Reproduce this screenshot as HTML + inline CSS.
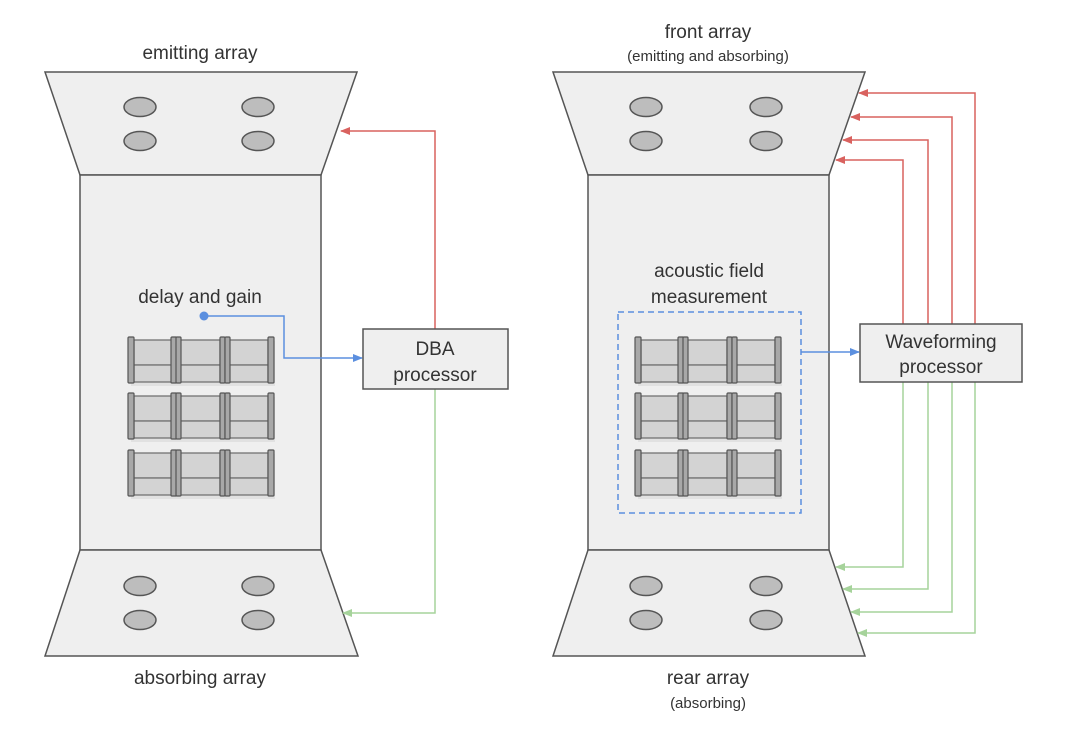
<!DOCTYPE html>
<html><head><meta charset="utf-8"><style>
html,body{margin:0;padding:0;background:#fff;}
svg{display:block;}
text{font-family:"Liberation Sans",sans-serif;fill:#333;}
</style></head><body>
<svg width="1080" height="734" viewBox="0 0 1080 734" xmlns="http://www.w3.org/2000/svg">
<defs>
<g id="row">
  <rect x="1" y="1" width="144" height="45" fill="#c8c8c8" opacity="0.35" transform="translate(2,3)"/>
  <rect x="6" y="3" width="38" height="25" fill="#d3d3d3" stroke="#6a6a6a" stroke-width="1.2"/>
  <rect x="6" y="28" width="38" height="17" fill="#d3d3d3" stroke="#6a6a6a" stroke-width="1.2"/>
  <rect x="50" y="3" width="42" height="25" fill="#d3d3d3" stroke="#6a6a6a" stroke-width="1.2"/>
  <rect x="50" y="28" width="42" height="17" fill="#d3d3d3" stroke="#6a6a6a" stroke-width="1.2"/>
  <rect x="99" y="3" width="41" height="25" fill="#d3d3d3" stroke="#6a6a6a" stroke-width="1.2"/>
  <rect x="99" y="28" width="41" height="17" fill="#d3d3d3" stroke="#6a6a6a" stroke-width="1.2"/>
  <rect x="0" y="0" width="6" height="46" rx="1" fill="#a8a8a8" stroke="#555" stroke-width="1.2"/>
  <rect x="43" y="0" width="6" height="46" rx="1" fill="#a8a8a8" stroke="#555" stroke-width="1.2"/>
  <rect x="48" y="0" width="5" height="46" rx="1" fill="#a8a8a8" stroke="#555" stroke-width="1.2"/>
  <rect x="92" y="0" width="5" height="46" rx="1" fill="#a8a8a8" stroke="#555" stroke-width="1.2"/>
  <rect x="97" y="0" width="5" height="46" rx="1" fill="#a8a8a8" stroke="#555" stroke-width="1.2"/>
  <rect x="140" y="0" width="6" height="46" rx="1" fill="#a8a8a8" stroke="#555" stroke-width="1.2"/>
</g>
<g id="spk"><ellipse rx="16" ry="9.5" fill="#bdbdbd" stroke="#555" stroke-width="1.5"/></g>
<marker id="ar" markerWidth="10" markerHeight="8" refX="9" refY="4" orient="auto" markerUnits="userSpaceOnUse"><path d="M0,0 L10,4 L0,8z" fill="#d9625f"/></marker>
<marker id="ag" markerWidth="10" markerHeight="8" refX="9" refY="4" orient="auto" markerUnits="userSpaceOnUse"><path d="M0,0 L10,4 L0,8z" fill="#a6d39b"/></marker>
<marker id="ab" markerWidth="10" markerHeight="8" refX="9" refY="4" orient="auto" markerUnits="userSpaceOnUse"><path d="M0,0 L10,4 L0,8z" fill="#5b8fdf"/></marker>
</defs>

<!-- LEFT -->
<g fill="#efefef" stroke="#555" stroke-width="1.5">
<polygon points="45,72 357,72 321,175 80,175"/>
<rect x="80" y="175" width="241" height="375"/>
<polygon points="80,550 321,550 358,656 45,656"/>
</g>
<use href="#spk" x="140" y="107"/><use href="#spk" x="258" y="107"/>
<use href="#spk" x="140" y="141"/><use href="#spk" x="258" y="141"/>
<use href="#spk" x="140" y="586"/><use href="#spk" x="258" y="586"/>
<use href="#spk" x="140" y="620"/><use href="#spk" x="258" y="620"/>
<use href="#row" x="128" y="337"/><use href="#row" x="128" y="393"/><use href="#row" x="128" y="450"/>
<text x="200" y="59" font-size="19" text-anchor="middle">emitting array</text>
<text x="200" y="684" font-size="19" text-anchor="middle">absorbing array</text>
<text x="200" y="303" font-size="19" text-anchor="middle">delay and gain</text>

<polyline points="435,329 435,131 341,131" fill="none" stroke="#d9625f" stroke-width="1.5" marker-end="url(#ar)"/>
<polyline points="435,389 435,613 343,613" fill="none" stroke="#a6d39b" stroke-width="1.5" marker-end="url(#ag)"/>
<circle cx="204" cy="316" r="4.5" fill="#5b8fdf"/>
<polyline points="204,316 284,316 284,358 362,358" fill="none" stroke="#5b8fdf" stroke-width="1.5" marker-end="url(#ab)"/>
<rect x="363" y="329" width="145" height="60" fill="#efefef" stroke="#555" stroke-width="1.5"/>
<text x="435" y="355" font-size="19" text-anchor="middle">DBA</text>
<text x="435" y="381" font-size="19" text-anchor="middle">processor</text>

<!-- RIGHT -->
<g fill="#efefef" stroke="#555" stroke-width="1.5">
<polygon points="553,72 865,72 829,175 588,175"/>
<rect x="588" y="175" width="241" height="375"/>
<polygon points="588,550 829,550 865,656 553,656"/>
</g>
<use href="#spk" x="646" y="107"/><use href="#spk" x="766" y="107"/>
<use href="#spk" x="646" y="141"/><use href="#spk" x="766" y="141"/>
<use href="#spk" x="646" y="586"/><use href="#spk" x="766" y="586"/>
<use href="#spk" x="646" y="620"/><use href="#spk" x="766" y="620"/>
<use href="#row" x="635" y="337"/><use href="#row" x="635" y="393"/><use href="#row" x="635" y="450"/>
<rect x="618" y="312" width="183" height="201" fill="none" stroke="#5b8fdf" stroke-width="1.5" stroke-dasharray="6,4"/>
<text x="709" y="277" font-size="19" text-anchor="middle">acoustic field</text>
<text x="709" y="303" font-size="19" text-anchor="middle">measurement</text>
<text x="708" y="38" font-size="19" text-anchor="middle">front array</text>
<text x="708" y="61" font-size="15" text-anchor="middle">(emitting and absorbing)</text>
<text x="708" y="684" font-size="19" text-anchor="middle">rear array</text>
<text x="708" y="708" font-size="15" text-anchor="middle">(absorbing)</text>

<line x1="801" y1="352" x2="859" y2="352" stroke="#5b8fdf" stroke-width="1.5" marker-end="url(#ab)"/>
<g fill="none" stroke="#d9625f" stroke-width="1.5">
<polyline points="975,324 975,93 859,93" marker-end="url(#ar)"/>
<polyline points="952,324 952,117 851,117" marker-end="url(#ar)"/>
<polyline points="928,324 928,140 843,140" marker-end="url(#ar)"/>
<polyline points="903,324 903,160 836,160" marker-end="url(#ar)"/>
</g>
<g fill="none" stroke="#a6d39b" stroke-width="1.5">
<polyline points="903,382 903,567 836,567" marker-end="url(#ag)"/>
<polyline points="928,382 928,589 843,589" marker-end="url(#ag)"/>
<polyline points="952,382 952,612 851,612" marker-end="url(#ag)"/>
<polyline points="975,382 975,633 858,633" marker-end="url(#ag)"/>
</g>
<rect x="860" y="324" width="162" height="58" fill="#efefef" stroke="#555" stroke-width="1.5"/>
<text x="941" y="348" font-size="19" text-anchor="middle">Waveforming</text>
<text x="941" y="373" font-size="19" text-anchor="middle">processor</text>
</svg>
</body></html>
